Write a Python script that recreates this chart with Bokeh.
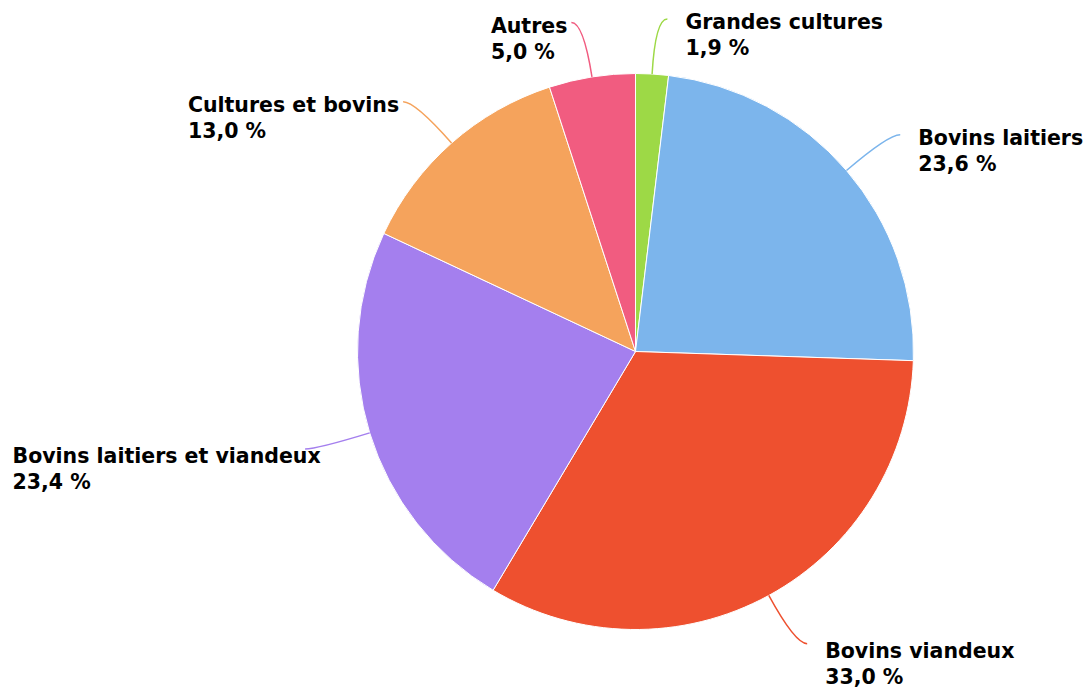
import math
from bokeh.plotting import figure
from bokeh.models import Range1d
from bokeh.core.properties import value
from bokeh.embed import file_html
from bokeh.resources import INLINE

# ---------------- data ----------------
categories = ["Grandes cultures", "Bovins laitiers", "Bovins viandeux",
              "Bovins laitiers et viandeux", "Cultures et bovins", "Autres"]
shares = [1.9, 23.6, 33.0, 23.4, 13.0, 5.0]
colors = ["#9dd946", "#7cb5ec", "#ee502f", "#a47fee", "#f5a35c", "#f15c80"]

# ---------------- layout / style ----------------
W, H = 1090, 689
CX, CY = 635, 338          # pie centre (1 unit = 1 px)
R = 278
CONN_OUT = 55              # connector length beyond the rim
CONN_HOOK = 12
FONT = "DejaVu Sans"
FONT_PX = 20.5
LINE_H = 26

# approximate DejaVu Sans Bold advance widths (units / 2048 em)
ADV = {" ": 713, "%": 2052, ",": 780, "A": 1585, "B": 1561, "C": 1503, "G": 1700,
       "a": 1382, "b": 1466, "c": 1214, "d": 1466, "e": 1389, "i": 702, "l": 702,
       "n": 1458, "o": 1407, "r": 1010, "s": 1219, "t": 979, "u": 1458, "v": 1335,
       "x": 1325}
for dgt in "0123456789":
    ADV[dgt] = 1425


def text_width(s):
    return sum(ADV.get(ch, 1300) for ch in s) / 2048.0 * FONT_PX


def fmt(v):
    return f"{v:.1f}".replace(".", ",") + " %"


total = sum(shares)

p = figure(width=W, height=H, output_backend="svg", toolbar_location=None,
           x_range=Range1d(0, W), y_range=Range1d(0, H), min_border=0)
p.axis.visible = False
p.grid.visible = False
p.outline_line_color = None
p.background_fill_color = "white"
p.border_fill_color = "white"

starts, ends = [], []
cum = 0.0
for v in shares:
    starts.append(math.pi / 2 - 2 * math.pi * cum / total)
    cum += v
    ends.append(math.pi / 2 - 2 * math.pi * cum / total)

p.wedge(x=[CX] * len(shares), y=[CY] * len(shares), radius=R,
        start_angle=starts, end_angle=ends, direction="clock",
        fill_color=colors, line_color="white", line_width=1)

# connectors + labels
x0s, y0s, cxs, cys, x1s, y1s = [], [], [], [], [], []
tx, ty, tt, = [], [], []
cum = 0.0
for name, v, col in zip(categories, shares, colors):
    mid = 2 * math.pi * (cum + v / 2) / total   # clockwise from top
    cum += v
    dx, dy = math.sin(mid), math.cos(mid)
    side = 1 if dx >= 0 else -1
    px0, py0 = CX + R * dx, CY + R * dy
    pcx, pcy = CX + (R + CONN_OUT) * dx, CY + (R + CONN_OUT) * dy
    px1, py1 = pcx + side * CONN_HOOK, pcy
    x0s.append(px0); y0s.append(py0); cxs.append(pcx); cys.append(pcy)
    x1s.append(px1); y1s.append(py1)
    line2 = fmt(v)
    if side > 0:
        lx = px1 + 18
    else:
        wmax = max(text_width(name), text_width(line2))
        lx = max(12, px1 - 4 - wmax)
    ly = py1 - 3 - (4 if dy < 0 else 0)
    tx += [lx, lx]
    ty += [ly, ly - LINE_H]
    tt += [name, line2]

p.quadratic(x0=x0s, y0=y0s, x1=x1s, y1=y1s, cx=cxs, cy=cys,
            line_color=colors, line_width=1.5)

p.text(x=tx, y=ty, text=tt, text_font=value(FONT), text_font_style="bold",
       text_font_size=f"{FONT_PX}px", text_baseline="middle", text_align="left",
       text_color="#000000")

open("out.html", "w").write(file_html(p, INLINE))
